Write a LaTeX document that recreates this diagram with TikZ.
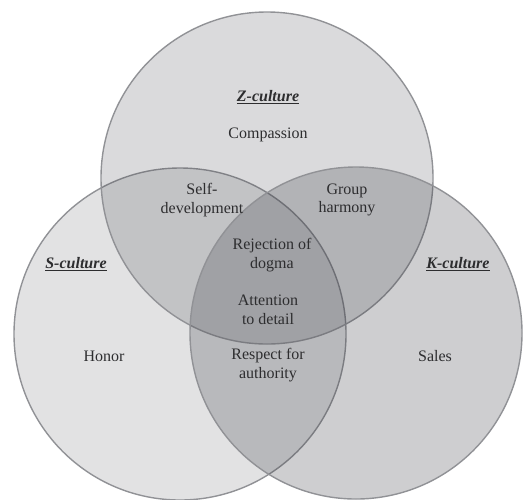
\documentclass[tikz,border=0pt]{standalone}
\usepackage{fontspec}
\setmainfont{Liberation Serif}
\usepackage{xcolor}
\usepackage{tikz}
\usetikzlibrary{positioning}

\definecolor{setgray}{RGB}{58,60,68}
\definecolor{rimgray}{RGB}{145,146,150}
\definecolor{textgray}{RGB}{45,45,47}

\begin{document}
\begin{tikzpicture}[
	x=1pt,y=-1pt,
	set/.style={
		circle,
		draw=rimgray,
		line width=1.4pt,
		fill=setgray,
		minimum size=332pt,
		inner sep=0pt
	},
	word/.style={
		align=center,
		text=textgray,
		font=\fontsize{16}{18.5}\selectfont
	},
	title/.style={
		word,
		font=\fontsize{16}{18.5}\selectfont\bfseries\itshape
	}
	]
	\useasboundingbox (0,0) rectangle (526,499);
	
	\node[set,fill opacity=0.15] (sset) at (180,334) {};
	\node[set,fill opacity=0.19] (zset) at (267,178) {};
	\node[set,fill opacity=0.25] (kset) at (356,333) {};
	
	\node[title] (ztitle) at (268,97) {\underline{Z-culture}};
	\node[word] (compassion) at (268,135) {Compassion};
	\node[word] (selfdev) at (202,200) {Self-\\development};
	\node[word] (harmony) at (347,200) {Group\\harmony};
	\node[title] (stitle) at (76,264) {\underline{S-culture}};
	\node[title] (ktitle) at (458,264) {\underline{K-culture}};
	\node[word] (dogma) at (272,255) {Rejection of\\dogma};
	\node[word] (detail) at (268,310) {Attention\\to detail};
	\node[word] (honor) at (104,356) {Honor};
	\node[word] (respect) at (268,365) {Respect for\\authority};
	\node[word] (sales) at (435,356) {Sales};
\end{tikzpicture}
\end{document}
